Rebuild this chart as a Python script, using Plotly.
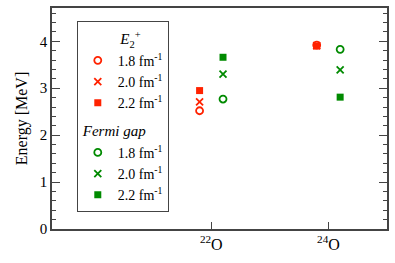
import plotly.graph_objects as go

nuclei = [22, 24]
nucleus_labels = ["<sup>22</sup>O", "<sup>24</sup>O"]
kf_labels = ["1.8 fm<sup>-1</sup>", "2.0 fm<sup>-1</sup>", "2.2 fm<sup>-1</sup>"]
symbols = ["circle-open", "x-thin-open", "square"]

# E_2+ energies [MeV] for kF = 1.8, 2.0, 2.2 fm^-1 (22O, 24O)
e2_18 = [2.52, 3.92]
e2_20 = [2.71, 3.91]
e2_22 = [2.95, 3.90]
# Fermi gap [MeV]
fg_18 = [2.77, 3.83]
fg_20 = [3.30, 3.39]
fg_22 = [3.66, 2.81]

red = "#ff2200"
green = "#008a00"
offset = 0.2

fig = go.Figure()

def add(vals, sym, color, name, group, title, dx):
    x = [n + dx for n in nuclei]
    is_sq = sym == "square"
    fig.add_trace(go.Scatter(
        x=x, y=vals, mode="markers", name=name,
        legendgroup=group, legendgrouptitle_text=title,
        marker=dict(symbol=sym, size=7, color=color,
                    line=dict(width=0 if is_sq else 1.8, color=color)),
    ))

e2_title = "          <i>E</i><sub>2</sub><sup>+</sup>"
fg_title = "<i>Fermi gap</i>"
for vals, sym, name in zip([e2_18, e2_20, e2_22], symbols, kf_labels):
    add(vals, sym, red, name, "e2", e2_title, -offset)
for vals, sym, name in zip([fg_18, fg_20, fg_22], symbols, kf_labels):
    add(vals, sym, green, name, "fg", fg_title, offset)

axis_common = dict(showline=True, linecolor="#444", linewidth=1.5, ticks="inside",
                   tickcolor="#444", showgrid=False, zeroline=False)

fig.update_layout(
    width=395, height=263,
    margin=dict(l=52, r=7, t=6, b=34),
    paper_bgcolor="white", plot_bgcolor="white",
    font=dict(family="Liberation Serif", size=13, color="black"),
    xaxis=dict(range=[19.28, 25.0], tickvals=nuclei, ticktext=nucleus_labels,
               ticklen=7, mirror=True, tickfont=dict(size=16), **axis_common),
    yaxis=dict(range=[0, 4.71], dtick=1, ticklen=8, mirror="allticks",
               title=dict(text="Energy [MeV]", standoff=8, font=dict(size=16)),
               tickfont=dict(size=15),
               minor=dict(dtick=0.2, ticks="inside", ticklen=4, tickcolor="#444"),
               **axis_common),
    legend=dict(x=0.074, y=0.94, xanchor="left", yanchor="top",
                bordercolor="#444", borderwidth=1, bgcolor="white",
                font=dict(size=14), tracegroupgap=6, itemwidth=30,
                grouptitlefont=dict(size=15)),
    showlegend=True,
)

fig.write_html("out.html", config={"displayModeBar": False},
               post_script="document.body.style.margin='0';")
